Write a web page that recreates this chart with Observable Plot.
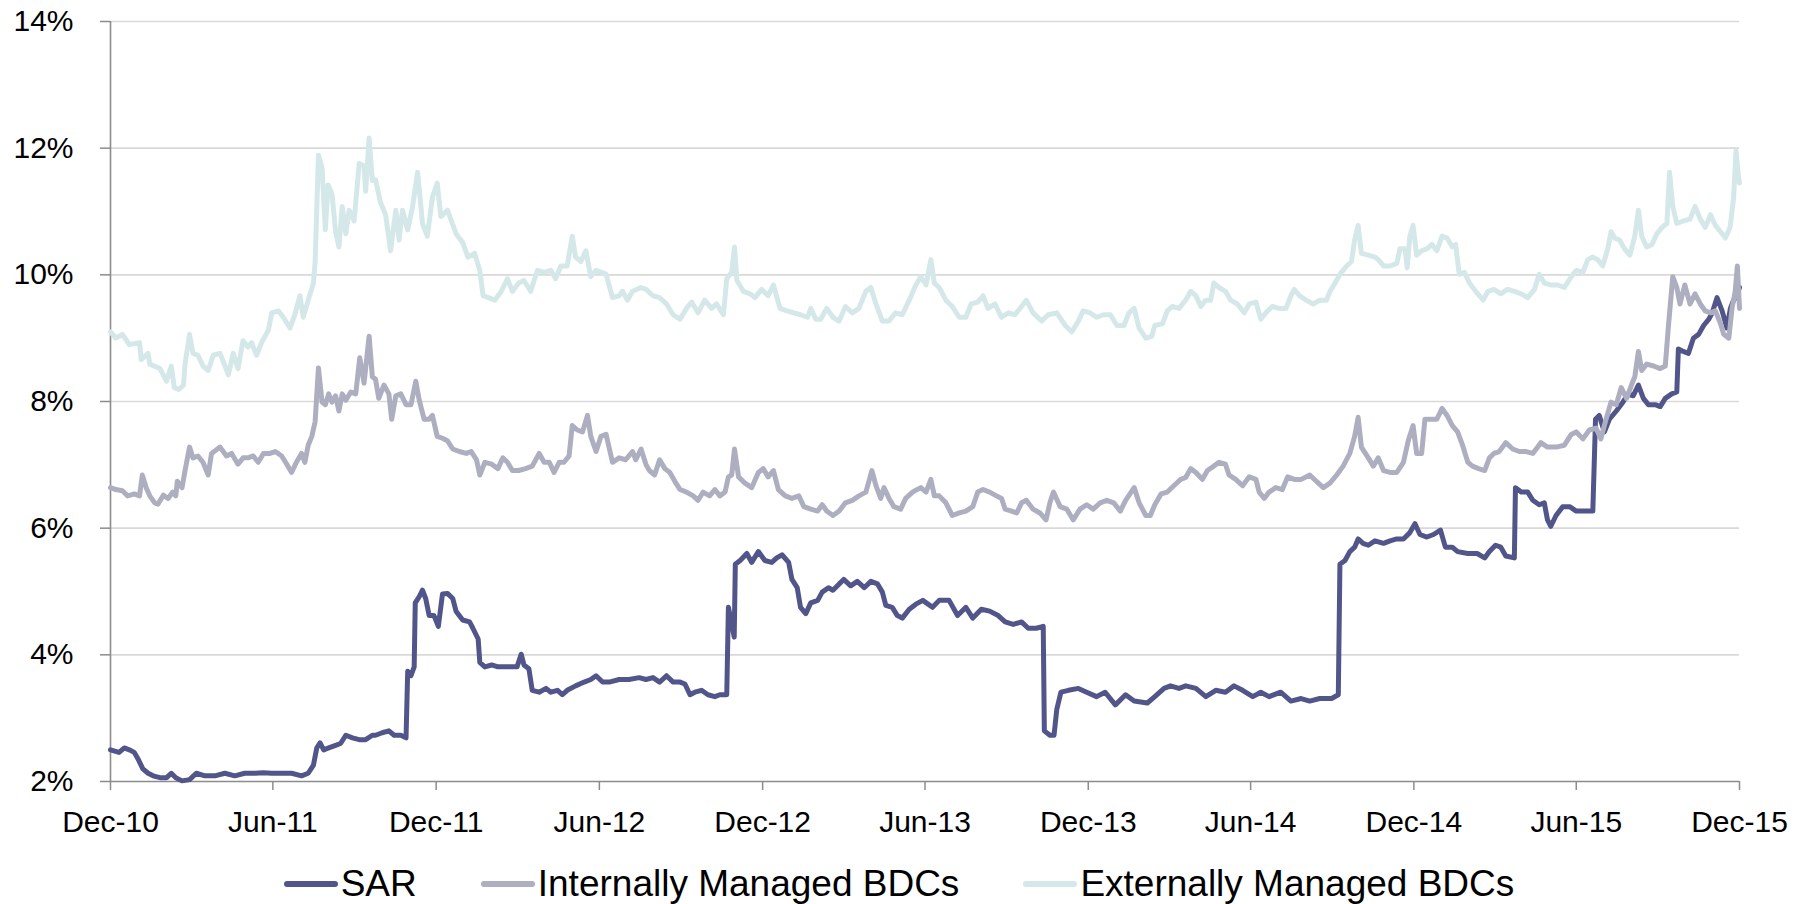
<!DOCTYPE html>
<html>
<head>
<meta charset="utf-8">
<script src="https://cdn.jsdelivr.net/npm/d3@7"></script>
<script src="https://cdn.jsdelivr.net/npm/@observablehq/plot@0.6"></script>
<style>
  html, body { margin: 0; padding: 0; background: #fff; }
  body { width: 1806px; height: 904px; overflow: hidden; font-family: "Liberation Sans", Arial, sans-serif; }
  #legend { display: flex; justify-content: center; align-items: center; height: 37px; margin-top: 15px; padding-right: 8px; font-size: 37px; line-height: 1; color: #000; }
  .item { display: flex; align-items: center; margin: 0 32px; }
  .sw { width: 54px; height: 6px; margin-right: 3px; border-radius: 3px; }
</style>
</head>
<body>
<div id="chart"></div>
<div id="legend"></div>
<script>
// x values: months elapsed since the Dec-10 tick; y values: yield in %
const seriesNames = ["SAR", "Internally Managed BDCs", "Externally Managed BDCs"];
const seriesColors = ["#52558a", "#aeaec1", "#d5e8e9"];
const xTickLabels = ["Dec-10","Jun-11","Dec-11","Jun-12","Dec-12","Jun-13","Dec-13","Jun-14","Dec-14","Jun-15","Dec-15"];
const yTicks = [2, 4, 6, 8, 10, 12, 14];
const yTickLabels = ["2%","4%","6%","8%","10%","12%","14%"];

const sarSeries = [
[0.00,2.50],[0.31,2.46],[0.50,2.53],[0.68,2.50],[0.86,2.46],[0.99,2.36],[1.17,2.20],[1.36,2.13],[1.54,2.09],[1.79,2.06],
[2.03,2.06],[2.22,2.13],[2.40,2.06],[2.65,2.01],[2.95,2.03],[3.20,2.13],[3.51,2.09],[3.87,2.09],[4.24,2.13],[4.61,2.09],
[4.98,2.13],[5.35,2.13],[5.66,2.14],[5.96,2.13],[6.33,2.13],[6.70,2.13],[7.07,2.09],[7.31,2.13],[7.50,2.26],[7.62,2.53],
[7.74,2.61],[7.87,2.50],[8.05,2.53],[8.30,2.57],[8.48,2.60],[8.67,2.73],[8.91,2.69],[9.16,2.66],[9.40,2.66],[9.65,2.73],
[9.77,2.73],[10.02,2.77],[10.26,2.80],[10.45,2.73],[10.69,2.73],[10.88,2.69],[10.94,3.74],[11.06,3.67],[11.18,3.81],[11.22,4.82],
[11.37,4.92],[11.49,5.02],[11.61,4.89],[11.74,4.62],[11.92,4.62],[12.08,4.45],[12.23,4.96],[12.41,4.97],[12.60,4.89],[12.72,4.69],
[12.96,4.55],[13.21,4.52],[13.33,4.42],[13.52,4.25],[13.58,3.88],[13.76,3.81],[14.01,3.84],[14.25,3.81],[14.50,3.81],[14.75,3.81],
[14.99,3.81],[15.14,4.01],[15.24,3.84],[15.42,3.78],[15.54,3.44],[15.79,3.41],[16.04,3.47],[16.22,3.41],[16.47,3.44],[16.65,3.37],
[16.83,3.44],[17.14,3.51],[17.45,3.57],[17.69,3.61],[17.88,3.67],[18.12,3.57],[18.37,3.57],[18.74,3.61],[19.10,3.61],[19.47,3.64],
[19.72,3.61],[19.97,3.64],[20.21,3.57],[20.46,3.67],[20.70,3.57],[20.95,3.57],[21.13,3.54],[21.32,3.37],[21.50,3.41],[21.75,3.44],
[21.99,3.37],[22.24,3.34],[22.42,3.37],[22.67,3.37],[22.73,4.75],[22.94,4.28],[22.98,5.43],[23.16,5.49],[23.41,5.60],[23.59,5.46],
[23.84,5.63],[24.08,5.49],[24.33,5.46],[24.51,5.53],[24.70,5.58],[24.94,5.46],[25.06,5.19],[25.25,5.06],[25.37,4.75],[25.56,4.65],
[25.74,4.82],[25.99,4.86],[26.17,4.99],[26.42,5.06],[26.60,5.02],[26.85,5.12],[27.03,5.19],[27.28,5.09],[27.52,5.16],[27.77,5.06],
[28.01,5.16],[28.26,5.12],[28.44,4.99],[28.57,4.78],[28.81,4.75],[29.00,4.62],[29.18,4.58],[29.43,4.72],[29.67,4.80],[29.92,4.86],
[30.28,4.75],[30.53,4.86],[30.90,4.86],[31.21,4.62],[31.51,4.75],[31.76,4.58],[32.07,4.72],[32.37,4.69],[32.68,4.62],[32.93,4.52],
[33.23,4.48],[33.54,4.52],[33.79,4.42],[34.09,4.42],[34.34,4.45],[34.38,2.80],[34.58,2.73],[34.73,2.73],[34.83,3.14],[34.98,3.41],
[35.26,3.44],[35.63,3.47],[35.94,3.41],[36.30,3.34],[36.61,3.41],[36.98,3.21],[37.35,3.37],[37.66,3.27],[38.15,3.24],[38.45,3.34],
[38.82,3.47],[39.07,3.51],[39.38,3.47],[39.62,3.51],[39.99,3.47],[40.36,3.34],[40.73,3.44],[41.09,3.41],[41.40,3.51],[41.71,3.44],
[42.08,3.34],[42.38,3.41],[42.69,3.34],[43.12,3.41],[43.49,3.27],[43.86,3.31],[44.17,3.27],[44.53,3.31],[44.96,3.31],[45.21,3.37],
[45.27,5.43],[45.46,5.49],[45.64,5.63],[45.82,5.70],[45.95,5.83],[46.13,5.76],[46.32,5.73],[46.56,5.80],[46.87,5.76],[47.11,5.80],
[47.36,5.83],[47.61,5.83],[47.85,5.93],[48.04,6.07],[48.22,5.90],[48.47,5.86],[48.71,5.90],[48.96,5.97],[49.14,5.70],[49.39,5.70],
[49.58,5.63],[49.95,5.60],[50.32,5.60],[50.62,5.53],[50.81,5.63],[51.05,5.73],[51.24,5.70],[51.42,5.56],[51.73,5.53],[51.77,6.64],
[51.98,6.57],[52.22,6.57],[52.41,6.44],[52.65,6.37],[52.84,6.40],[52.96,6.13],[53.08,6.03],[53.27,6.20],[53.51,6.34],[53.76,6.34],
[54.00,6.27],[54.31,6.27],[54.62,6.27],[54.72,7.72],[54.86,7.78],[55.05,7.52],[55.23,7.72],[55.48,7.85],[55.72,7.99],[55.91,8.12],
[56.09,8.09],[56.28,8.26],[56.46,8.05],[56.64,7.95],[56.89,7.95],[57.07,7.92],[57.26,8.05],[57.50,8.12],[57.69,8.15],[57.75,8.83],
[57.93,8.79],[58.12,8.76],[58.30,9.00],[58.49,9.06],[58.67,9.20],[58.86,9.30],[58.98,9.40],[59.16,9.64],[59.35,9.43],[59.53,9.16],
[59.66,9.47],[59.78,9.60],[59.90,9.67],[60.00,9.80]
];

const internalSeries = [
[0.00,6.64],[0.19,6.61],[0.43,6.59],[0.62,6.51],[0.86,6.54],[1.05,6.51],[1.15,6.84],[1.29,6.64],[1.42,6.51],[1.60,6.40],
[1.72,6.38],[1.91,6.52],[2.09,6.47],[2.28,6.57],[2.40,6.51],[2.46,6.74],[2.65,6.64],[2.77,6.91],[2.95,7.28],[3.08,7.11],
[3.26,7.14],[3.44,7.04],[3.63,6.84],[3.75,7.18],[4.06,7.28],[4.30,7.14],[4.49,7.18],[4.73,7.01],[4.92,7.11],[5.10,7.11],
[5.29,7.14],[5.47,7.04],[5.66,7.18],[5.90,7.18],[6.09,7.21],[6.33,7.14],[6.52,7.01],[6.70,6.88],[6.88,7.04],[7.07,7.18],
[7.19,7.04],[7.31,7.31],[7.44,7.45],[7.56,7.68],[7.68,8.53],[7.81,7.99],[7.93,7.95],[8.05,8.12],[8.17,7.99],[8.30,8.09],
[8.42,7.85],[8.54,8.12],[8.67,8.02],[8.85,8.15],[9.03,8.12],[9.18,8.69],[9.34,8.29],[9.53,9.03],[9.65,8.39],[9.77,8.35],
[9.89,8.05],[10.08,8.26],[10.26,8.12],[10.36,7.72],[10.51,8.09],[10.69,8.12],[10.88,7.95],[11.06,7.95],[11.24,8.32],[11.37,8.02],
[11.55,7.72],[11.74,7.72],[11.86,7.78],[12.04,7.45],[12.23,7.42],[12.41,7.38],[12.60,7.25],[12.84,7.21],[13.09,7.18],[13.27,7.21],
[13.46,7.08],[13.58,6.84],[13.76,7.04],[14.01,7.01],[14.25,6.94],[14.44,7.11],[14.62,7.04],[14.81,6.91],[15.05,6.91],[15.30,6.94],
[15.54,6.98],[15.79,7.18],[15.97,7.04],[16.16,7.04],[16.34,6.88],[16.53,7.04],[16.71,7.04],[16.90,7.14],[17.02,7.62],[17.20,7.55],
[17.39,7.52],[17.57,7.78],[17.69,7.45],[17.88,7.21],[18.06,7.45],[18.25,7.48],[18.49,7.04],[18.74,7.11],[18.98,7.08],[19.23,7.21],
[19.35,7.08],[19.54,7.25],[19.72,7.00],[19.84,6.91],[20.03,6.84],[20.21,7.08],[20.40,6.94],[20.58,6.88],[20.76,6.74],[20.95,6.61],
[21.19,6.57],[21.44,6.51],[21.62,6.44],[21.81,6.57],[22.05,6.51],[22.24,6.61],[22.42,6.51],[22.61,6.57],[22.73,6.81],[22.85,6.84],
[22.95,7.25],[23.10,6.81],[23.34,6.71],[23.59,6.64],[23.84,6.88],[24.02,6.94],[24.20,6.81],[24.39,6.91],[24.57,6.61],[24.82,6.51],
[25.06,6.47],[25.31,6.51],[25.49,6.34],[25.74,6.30],[25.99,6.27],[26.17,6.37],[26.35,6.27],[26.60,6.20],[26.85,6.27],[27.09,6.40],
[27.34,6.44],[27.58,6.51],[27.83,6.57],[28.05,6.91],[28.20,6.67],[28.38,6.47],[28.50,6.64],[28.69,6.47],[28.87,6.34],[29.12,6.30],
[29.30,6.47],[29.55,6.57],[29.67,6.60],[29.85,6.64],[30.04,6.57],[30.22,6.77],[30.35,6.51],[30.53,6.51],[30.78,6.40],[31.02,6.20],
[31.27,6.24],[31.51,6.27],[31.76,6.34],[31.94,6.57],[32.13,6.61],[32.37,6.57],[32.62,6.51],[32.80,6.47],[32.93,6.30],[33.17,6.27],
[33.36,6.24],[33.54,6.40],[33.72,6.44],[33.97,6.30],[34.22,6.24],[34.44,6.13],[34.58,6.40],[34.71,6.57],[34.95,6.34],[35.20,6.30],
[35.44,6.13],[35.69,6.30],[35.94,6.37],[36.18,6.30],[36.43,6.40],[36.67,6.44],[36.92,6.40],[37.16,6.27],[37.35,6.44],[37.66,6.64],
[37.84,6.40],[38.09,6.20],[38.27,6.20],[38.45,6.37],[38.70,6.54],[38.95,6.57],[39.19,6.67],[39.44,6.77],[39.62,6.80],[39.80,6.94],
[39.99,6.88],[40.23,6.77],[40.42,6.91],[40.66,6.98],[40.85,7.04],[41.09,7.01],[41.22,6.84],[41.46,6.77],[41.71,6.67],[41.95,6.81],
[42.20,6.77],[42.32,6.57],[42.51,6.47],[42.69,6.57],[42.94,6.64],[43.18,6.61],[43.37,6.81],[43.61,6.77],[43.86,6.77],[44.17,6.84],
[44.41,6.74],[44.66,6.64],[44.90,6.71],[45.15,6.84],[45.39,6.98],[45.64,7.18],[45.82,7.45],[45.95,7.75],[46.07,7.28],[46.32,7.11],
[46.50,6.98],[46.68,7.11],[46.87,6.91],[47.11,6.88],[47.36,6.88],[47.61,7.04],[47.79,7.38],[47.97,7.62],[48.10,7.18],[48.28,7.18],
[48.40,7.72],[48.65,7.72],[48.83,7.72],[49.02,7.89],[49.20,7.78],[49.39,7.62],[49.58,7.52],[49.76,7.31],[49.95,7.04],[50.13,6.98],
[50.38,6.94],[50.62,6.91],[50.81,7.11],[50.99,7.18],[51.18,7.21],[51.42,7.35],[51.67,7.25],[51.91,7.21],[52.16,7.21],[52.41,7.18],
[52.71,7.35],[52.96,7.28],[53.27,7.28],[53.57,7.31],[53.82,7.48],[54.00,7.52],[54.25,7.41],[54.49,7.55],[54.74,7.58],[54.92,7.41],
[55.11,7.72],[55.29,7.99],[55.48,7.95],[55.66,8.22],[55.85,8.05],[56.03,8.26],[56.15,8.39],[56.28,8.79],[56.40,8.49],[56.58,8.59],
[56.83,8.56],[57.07,8.52],[57.26,8.56],[57.38,9.20],[57.54,9.97],[57.69,9.80],[57.81,9.54],[57.99,9.84],[58.18,9.54],[58.36,9.70],
[58.55,9.54],[58.73,9.43],[58.92,9.40],[59.10,9.43],[59.29,9.23],[59.41,9.06],[59.60,9.00],[59.72,9.47],[59.84,9.74],[59.92,10.14],
[60.00,9.47]
];

const externalSeries = [
[0.00,9.10],[0.19,9.00],[0.43,9.06],[0.68,8.90],[1.05,8.93],[1.11,8.66],[1.36,8.76],[1.42,8.59],[1.79,8.52],[2.03,8.32],
[2.22,8.56],[2.34,8.22],[2.52,8.19],[2.71,8.26],[2.77,8.59],[2.95,9.06],[3.08,8.76],[3.26,8.73],[3.44,8.56],[3.63,8.49],
[3.81,8.73],[4.06,8.76],[4.18,8.63],[4.37,8.42],[4.55,8.76],[4.73,8.52],[4.92,8.96],[5.10,8.86],[5.23,8.93],[5.41,8.73],
[5.59,8.93],[5.84,9.13],[5.96,9.40],[6.21,9.43],[6.39,9.33],[6.64,9.16],[6.82,9.37],[7.01,9.67],[7.13,9.33],[7.31,9.60],
[7.50,9.87],[7.56,10.20],[7.68,11.89],[7.81,11.69],[7.93,10.71],[8.03,11.42],[8.17,11.28],[8.30,10.68],[8.42,10.44],[8.54,11.08],
[8.67,10.65],[8.79,11.02],[8.97,10.85],[9.16,11.76],[9.34,11.72],[9.40,11.32],[9.53,12.16],[9.65,11.49],[9.77,11.50],[9.95,11.15],
[10.14,10.95],[10.32,10.38],[10.51,11.02],[10.63,10.55],[10.75,11.02],[10.94,10.71],[11.12,11.08],[11.31,11.62],[11.49,10.81],[11.67,10.61],
[11.86,11.22],[12.04,11.45],[12.17,10.92],[12.41,11.02],[12.72,10.65],[12.96,10.51],[13.15,10.28],[13.39,10.34],[13.58,10.07],[13.70,9.67],
[13.89,9.64],[14.13,9.60],[14.38,9.74],[14.62,9.94],[14.81,9.74],[15.05,9.87],[15.24,9.91],[15.48,9.74],[15.73,10.07],[15.97,10.04],
[16.22,10.07],[16.40,9.94],[16.59,10.14],[16.83,10.14],[17.02,10.61],[17.14,10.28],[17.33,10.21],[17.51,10.38],[17.69,9.97],[17.88,10.07],
[18.25,10.01],[18.49,9.64],[18.74,9.67],[18.86,9.74],[19.05,9.60],[19.23,9.74],[19.54,9.80],[19.72,9.77],[19.97,9.67],[20.21,9.64],
[20.46,9.54],[20.70,9.37],[20.95,9.30],[21.19,9.47],[21.38,9.57],[21.62,9.40],[21.87,9.60],[22.12,9.47],[22.30,9.54],[22.55,9.37],
[22.67,9.94],[22.85,10.04],[22.95,10.44],[23.04,9.91],[23.28,9.74],[23.53,9.70],[23.71,9.64],[23.96,9.77],[24.20,9.67],[24.39,9.84],
[24.63,9.47],[24.88,9.43],[25.13,9.40],[25.37,9.37],[25.62,9.33],[25.74,9.47],[25.92,9.30],[26.11,9.30],[26.35,9.47],[26.60,9.33],
[26.85,9.27],[27.09,9.50],[27.34,9.40],[27.58,9.47],[27.83,9.74],[28.01,9.80],[28.20,9.54],[28.44,9.27],[28.69,9.27],[28.93,9.40],
[29.18,9.37],[29.43,9.60],[29.67,9.84],[29.85,9.97],[30.04,9.84],[30.22,10.24],[30.35,9.87],[30.53,9.80],[30.78,9.60],[31.02,9.50],
[31.27,9.33],[31.51,9.33],[31.70,9.54],[31.94,9.57],[32.13,9.67],[32.31,9.47],[32.56,9.54],[32.80,9.33],[33.05,9.40],[33.29,9.37],
[33.54,9.50],[33.72,9.60],[33.97,9.40],[34.28,9.27],[34.52,9.37],[34.83,9.40],[35.14,9.20],[35.38,9.10],[35.63,9.27],[35.81,9.43],
[36.06,9.40],[36.30,9.33],[36.55,9.37],[36.80,9.37],[37.04,9.20],[37.29,9.20],[37.47,9.40],[37.66,9.47],[37.84,9.16],[38.09,9.00],
[38.33,9.03],[38.45,9.20],[38.76,9.23],[38.95,9.43],[39.13,9.50],[39.38,9.47],[39.56,9.57],[39.62,9.60],[39.80,9.74],[39.99,9.67],
[40.17,9.50],[40.36,9.60],[40.54,9.60],[40.66,9.87],[40.85,9.80],[41.09,9.74],[41.28,9.60],[41.52,9.54],[41.77,9.40],[41.95,9.54],
[42.20,9.57],[42.38,9.30],[42.57,9.40],[42.81,9.50],[43.06,9.47],[43.31,9.47],[43.49,9.67],[43.61,9.77],[43.80,9.67],[44.04,9.60],
[44.29,9.54],[44.53,9.60],[44.78,9.60],[44.90,9.74],[45.09,9.87],[45.27,10.01],[45.52,10.14],[45.70,10.21],[45.82,10.55],[45.95,10.78],
[46.07,10.34],[46.32,10.31],[46.56,10.28],[46.68,10.24],[46.87,10.14],[47.11,10.14],[47.36,10.18],[47.48,10.41],[47.67,10.41],[47.75,10.11],
[47.85,10.61],[47.97,10.78],[48.10,10.31],[48.28,10.38],[48.47,10.41],[48.65,10.48],[48.83,10.38],[49.02,10.61],[49.20,10.58],[49.39,10.44],
[49.51,10.48],[49.64,10.01],[49.83,10.04],[50.01,9.87],[50.26,9.74],[50.56,9.60],[50.75,9.74],[50.99,9.77],[51.24,9.70],[51.48,9.77],
[51.73,9.74],[51.98,9.70],[52.22,9.64],[52.47,9.77],[52.65,10.01],[52.84,9.87],[53.08,9.84],[53.33,9.84],[53.57,9.80],[53.82,9.97],
[54.00,10.07],[54.25,10.04],[54.43,10.24],[54.62,10.28],[54.80,10.24],[54.99,10.14],[55.17,10.41],[55.29,10.68],[55.42,10.58],[55.60,10.55],
[55.78,10.41],[55.97,10.31],[56.15,10.61],[56.28,11.02],[56.40,10.61],[56.58,10.44],[56.77,10.48],[56.95,10.65],[57.14,10.75],[57.32,10.81],
[57.42,11.62],[57.54,11.08],[57.69,10.81],[57.93,10.85],[58.18,10.88],[58.36,11.08],[58.55,10.88],[58.73,10.75],[58.92,10.95],[59.10,10.78],
[59.29,10.68],[59.47,10.58],[59.65,10.75],[59.78,11.22],[59.87,11.96],[59.96,11.56],[60.00,11.45]
];

const start = new Date(Date.UTC(2010, 11, 1));
function monthToDate(m) {
  const k = Math.floor(m);
  const a = d3.utcMonth.offset(start, k), b = d3.utcMonth.offset(start, k + 1);
  return new Date(+a + (m - k) * (b - a));
}
const xTicks = xTickLabels.map((_, i) => d3.utcMonth.offset(start, 6 * i));
const end = xTicks[xTicks.length - 1];

const allSeries = [sarSeries, internalSeries, externalSeries];
const rows = allSeries.flatMap((s, si) => s.map(([m, v]) => ({date: monthToDate(m), value: v, series: seriesNames[si]})));

const font = '"Liberation Sans", Arial, sans-serif';
const chart = Plot.plot({
  width: 1806,
  height: 850,
  marginLeft: 110,
  marginRight: 67,
  marginTop: 21,
  marginBottom: 69,
  style: {fontFamily: font, background: "#fff", color: "#000", overflow: "visible"},
  x: {type: "utc", domain: [start, end]},
  y: {domain: [2, 14]},
  color: {domain: seriesNames, range: seriesColors},
  marks: [
    Plot.gridY(yTicks.slice(1), {stroke: "#d9d9d9", strokeOpacity: 1, strokeWidth: 1.6}),
    Plot.axisY(yTicks, {
      tickSize: 10, tickPadding: 27, fontSize: 30, stroke: "#8c8c8c", strokeWidth: 1.5, fill: "#000",
      tickFormat: (d) => yTickLabels[yTicks.indexOf(d)], label: null
    }),
    Plot.axisX(xTicks, {
      tickSize: 9, tickPadding: 20, fontSize: 30, stroke: "#8c8c8c", strokeWidth: 1.5, fill: "#000",
      tickFormat: (d) => xTickLabels[xTicks.findIndex(t => +t === +d)], label: null
    }),
    Plot.ruleX([start], {stroke: "#8c8c8c", strokeWidth: 1.6}),
    Plot.ruleY([2], {stroke: "#8c8c8c", strokeWidth: 1.6}),
    ...seriesNames.map((name) =>
      Plot.line(rows.filter(r => r.series === name), {
        x: "date", y: "value", stroke: "series", strokeWidth: 5, strokeLinejoin: "round", strokeLinecap: "round"
      })
    )
  ]
});
document.getElementById("chart").appendChild(chart);

const legend = document.getElementById("legend");
seriesNames.forEach((name, i) => {
  const item = document.createElement("div");
  item.className = "item";
  const sw = document.createElement("span");
  sw.className = "sw";
  sw.style.background = seriesColors[i];
  const label = document.createElement("span");
  label.textContent = name;
  item.appendChild(sw);
  item.appendChild(label);
  legend.appendChild(item);
});
</script>
</body>
</html>
